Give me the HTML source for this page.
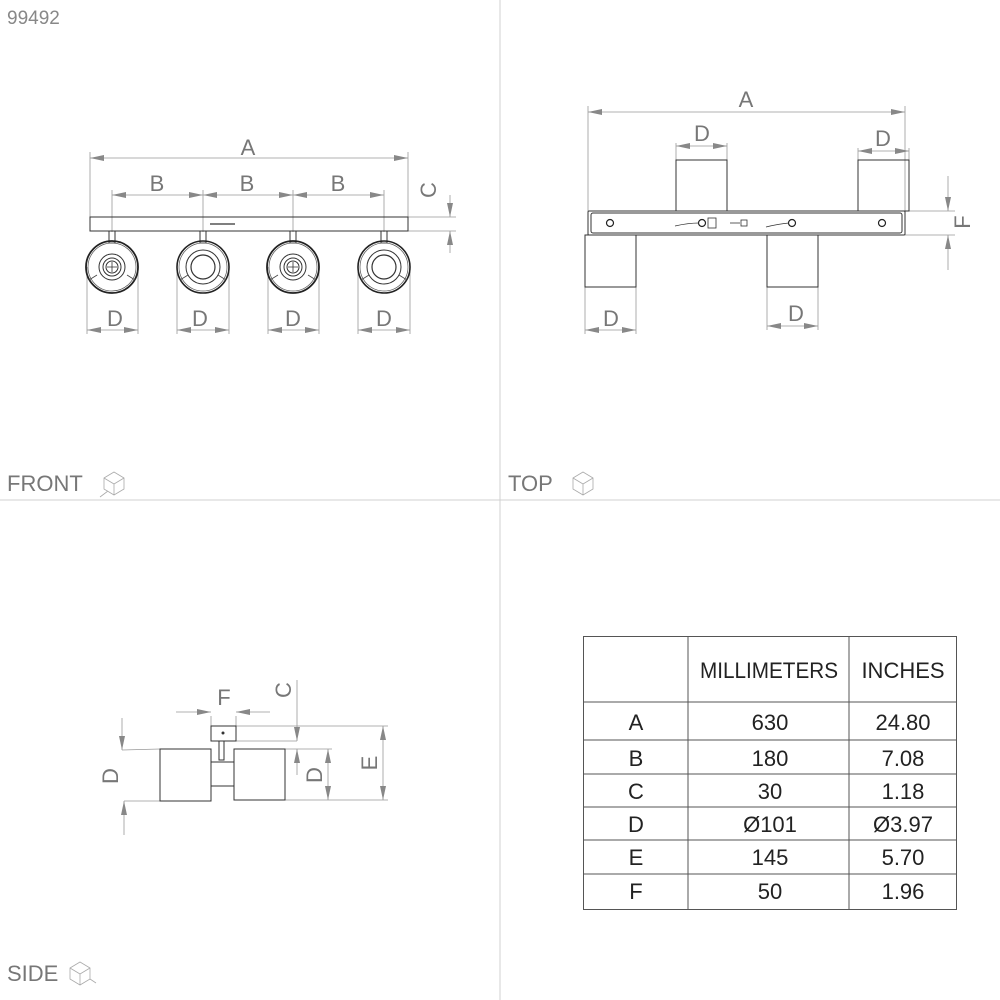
<!DOCTYPE html>
<html><head><style>
html,body{margin:0;padding:0;background:#fff}
svg{display:block}
text{font-family:"Liberation Sans",sans-serif}
</style></head><body>
<svg width="1000" height="1000" viewBox="0 0 1000 1000" xmlns="http://www.w3.org/2000/svg">
<defs>
<marker id="ar" viewBox="0 0 14 6" refX="14" refY="3" markerWidth="14" markerHeight="6" markerUnits="userSpaceOnUse" orient="auto-start-reverse">
<path d="M0,0 L14,3 L0,6 Z" fill="#888"/>
</marker>
<g id="lampA">
<circle r="26" fill="none" stroke="#222" stroke-width="1.6"/>
<circle r="24" fill="none" stroke="#555" stroke-width="0.7"/>
<circle r="17" fill="none" stroke="#333" stroke-width="1"/>
<circle r="12" fill="none" stroke="#333" stroke-width="1.2"/>
<path d="M-15,8 L-23,13 M15,8 L23,13" stroke="#444" stroke-width="0.8"/>
</g>
<g id="lampB">
<circle r="26" fill="none" stroke="#222" stroke-width="1.8"/>
<circle r="24" fill="none" stroke="#555" stroke-width="0.7"/>
<circle r="13" fill="none" stroke="#333" stroke-width="1"/>
<circle r="9" fill="none" stroke="#333" stroke-width="1"/>
<circle r="6" fill="none" stroke="#333" stroke-width="1"/>
<path d="M-5,0 H5 M0,-5 V5" stroke="#333" stroke-width="0.8"/>
<path d="M-15,8 L-23,13 M15,8 L23,13" stroke="#444" stroke-width="0.8"/>
</g>
</defs>

<!-- dividers -->
<line x1="500" y1="0" x2="500" y2="1000" stroke="#d0d0d0" stroke-width="1"/>
<line x1="0" y1="500" x2="1000" y2="500" stroke="#d0d0d0" stroke-width="1"/>

<text x="7" y="24" font-size="19" fill="#888">99492</text>
<text x="7" y="491" font-size="22" fill="#777">FRONT</text>
<text x="508" y="491" font-size="22" fill="#777">TOP</text>
<text x="7" y="981" font-size="22" fill="#777">SIDE</text>
<!-- cube icons -->
<g fill="none" stroke="#aaa" stroke-width="0.8">
<path d="M104,478 l10,-6 l10,6 v11 l-10,6 l-10,-6 Z M104,478 l10,6 l10,-6 M114,484 v11 M100,497 l8,-6"/>
<path d="M573,478 l10,-6 l10,6 v11 l-10,6 l-10,-6 Z M573,478 l10,6 l10,-6 M583,484 v11"/>
<path d="M70,968 l10,-6 l10,6 v11 l-10,6 l-10,-6 Z M70,968 l10,6 l10,-6 M80,974 v11 M90,979 l6,4"/>
</g>

<g stroke="#999" stroke-width="0.8" fill="none">
<!-- FRONT dims -->
<line x1="90" y1="158" x2="408" y2="158" marker-start="url(#ar)" marker-end="url(#ar)"/>
<line x1="90" y1="152" x2="90" y2="217"/><line x1="408" y1="152" x2="408" y2="217"/>
<line x1="112" y1="195" x2="203" y2="195" marker-start="url(#ar)" marker-end="url(#ar)"/>
<line x1="203" y1="195" x2="293" y2="195" marker-start="url(#ar)" marker-end="url(#ar)"/>
<line x1="293" y1="195" x2="384" y2="195" marker-start="url(#ar)" marker-end="url(#ar)"/>
<line x1="112" y1="190" x2="112" y2="232"/><line x1="203" y1="190" x2="203" y2="232"/>
<line x1="293" y1="190" x2="293" y2="232"/><line x1="384" y1="190" x2="384" y2="232"/>
<line x1="408" y1="217" x2="456" y2="217"/><line x1="408" y1="231" x2="456" y2="231"/>
<line x1="450" y1="195" x2="450" y2="217" marker-end="url(#ar)"/>
<line x1="450" y1="253" x2="450" y2="231" marker-end="url(#ar)"/>
<g>
<line x1="87" y1="267" x2="87" y2="334"/><line x1="138" y1="267" x2="138" y2="334"/>
<line x1="87" y1="330" x2="138" y2="330" marker-start="url(#ar)" marker-end="url(#ar)"/>
<line x1="177" y1="267" x2="177" y2="334"/><line x1="229" y1="267" x2="229" y2="334"/>
<line x1="177" y1="330" x2="229" y2="330" marker-start="url(#ar)" marker-end="url(#ar)"/>
<line x1="268" y1="267" x2="268" y2="334"/><line x1="319" y1="267" x2="319" y2="334"/>
<line x1="268" y1="330" x2="319" y2="330" marker-start="url(#ar)" marker-end="url(#ar)"/>
<line x1="358" y1="267" x2="358" y2="334"/><line x1="410" y1="267" x2="410" y2="334"/>
<line x1="358" y1="330" x2="410" y2="330" marker-start="url(#ar)" marker-end="url(#ar)"/>
</g>

<!-- TOP dims -->
<line x1="588" y1="112" x2="905" y2="112" marker-start="url(#ar)" marker-end="url(#ar)"/>
<line x1="588" y1="106" x2="588" y2="211"/><line x1="905" y1="106" x2="905" y2="211"/>
<line x1="676" y1="146" x2="727" y2="146" marker-start="url(#ar)" marker-end="url(#ar)"/>
<line x1="676" y1="143" x2="676" y2="160"/><line x1="727" y1="143" x2="727" y2="160"/>
<line x1="858" y1="151" x2="909" y2="151" marker-start="url(#ar)" marker-end="url(#ar)"/>
<line x1="858" y1="148" x2="858" y2="160"/><line x1="909" y1="148" x2="909" y2="160"/>
<line x1="585" y1="287" x2="585" y2="334"/><line x1="636" y1="287" x2="636" y2="334"/>
<line x1="585" y1="330" x2="636" y2="330" marker-start="url(#ar)" marker-end="url(#ar)"/>
<line x1="767" y1="287" x2="767" y2="330"/><line x1="818" y1="287" x2="818" y2="330"/>
<line x1="767" y1="326" x2="818" y2="326" marker-start="url(#ar)" marker-end="url(#ar)"/>
<line x1="905" y1="211" x2="955" y2="211"/><line x1="905" y1="235" x2="955" y2="235"/>
<line x1="948" y1="176" x2="948" y2="211" marker-end="url(#ar)"/>
<line x1="948" y1="270" x2="948" y2="235" marker-end="url(#ar)"/>

<!-- SIDE dims -->
<line x1="176" y1="712" x2="211" y2="712" marker-end="url(#ar)"/>
<line x1="270" y1="712" x2="236" y2="712" marker-end="url(#ar)"/>
<line x1="211" y1="716" x2="211" y2="726"/><line x1="236" y1="716" x2="236" y2="726"/>
<line x1="297" y1="680" x2="297" y2="741" marker-end="url(#ar)"/>
<line x1="297" y1="775" x2="297" y2="749" marker-end="url(#ar)"/>
<line x1="236" y1="726" x2="388" y2="726"/><line x1="236" y1="741" x2="297" y2="741"/>
<line x1="285" y1="749" x2="332" y2="749"/><line x1="285" y1="800" x2="388" y2="800"/>
<line x1="328" y1="774" x2="328" y2="749" marker-end="url(#ar)"/>
<line x1="328" y1="774" x2="328" y2="800" marker-end="url(#ar)"/>
<line x1="383" y1="763" x2="383" y2="726" marker-end="url(#ar)"/>
<line x1="383" y1="763" x2="383" y2="800" marker-end="url(#ar)"/>
<line x1="122" y1="718" x2="122" y2="750" marker-end="url(#ar)"/>
<line x1="124" y1="835" x2="124" y2="801" marker-end="url(#ar)"/>
<line x1="122" y1="750" x2="160" y2="749"/><line x1="124" y1="801" x2="160" y2="801"/>
</g>

<!-- FRONT drawing -->
<g stroke="#333" stroke-width="1" fill="none">
<rect x="90" y="217" width="318" height="14"/>
<line x1="210" y1="224" x2="235" y2="224" stroke-width="1.2"/>
<rect x="109" y="231" width="6" height="12"/><rect x="200" y="231" width="6" height="12"/>
<rect x="290" y="231" width="6" height="12"/><rect x="381" y="231" width="6" height="12"/>
</g>
<use href="#lampB" x="112" y="267"/>
<use href="#lampA" x="203" y="267"/>
<use href="#lampB" x="293" y="267"/>
<use href="#lampA" x="384" y="267"/>

<!-- TOP drawing -->
<g stroke="#333" stroke-width="1" fill="none">
<rect x="676" y="160" width="51" height="51"/>
<rect x="858" y="160" width="51" height="51"/>
<rect x="585" y="235" width="51" height="52"/>
<rect x="767" y="235" width="51" height="52"/>
<rect x="588" y="211" width="317" height="24" rx="1" fill="#fff"/>
<rect x="591" y="213" width="311" height="20" rx="2"/>
</g>
<g fill="#fff" stroke="#222" stroke-width="1.2">
<circle cx="610" cy="223" r="3.5"/><circle cx="792" cy="223" r="3.5"/>
<circle cx="702" cy="223" r="3.5"/><circle cx="882" cy="223" r="3.5"/>
</g>
<g stroke="#333" stroke-width="0.8" fill="none">
<path d="M675,226 Q688,223 699,223"/><rect x="708" y="218" width="8" height="10"/>
<path d="M730,223 H740"/><rect x="741" y="220" width="6" height="6"/>
<path d="M766,227 Q778,224 789,223"/>
</g>

<!-- SIDE drawing -->
<g stroke="#333" stroke-width="1" fill="#fff">
<rect x="211" y="726" width="25" height="15"/>
<rect x="219" y="741" width="5" height="19"/>
<rect x="210" y="762" width="24" height="24"/>
<rect x="160" y="749" width="51" height="52"/>
<rect x="234" y="749" width="51" height="51"/>
</g>
<circle cx="223" cy="733" r="1.5" fill="#333"/>

<!-- labels -->
<g fill="#777" font-size="22" text-anchor="middle">
<text x="248" y="155">A</text>
<text x="157" y="191">B</text><text x="247" y="191">B</text><text x="338" y="191">B</text>
<text x="115" y="326">D</text><text x="200" y="326">D</text><text x="293" y="326">D</text><text x="384" y="326">D</text>
<text x="746" y="107">A</text>
<text x="702" y="141">D</text><text x="883" y="146">D</text>
<text x="611" y="326">D</text><text x="796" y="321">D</text>
<text x="224" y="705">F</text>
<text transform="translate(436,190) rotate(-90)">C</text>
<text transform="translate(970,222) rotate(-90)">F</text>
<text transform="translate(291,690) rotate(-90)">C</text>
<text transform="translate(322,775) rotate(-90)">D</text>
<text transform="translate(377,763) rotate(-90)">E</text>
<text transform="translate(118,776) rotate(-90)">D</text>
</g>

<!-- table -->
<g stroke="#555" stroke-width="1" fill="none">
<rect x="583.5" y="636.5" width="373" height="273"/>
<line x1="688" y1="636" x2="688" y2="909"/><line x1="849" y1="636" x2="849" y2="909"/>
<line x1="583" y1="702" x2="956" y2="702"/><line x1="583" y1="740" x2="956" y2="740"/>
<line x1="583" y1="774" x2="956" y2="774"/><line x1="583" y1="807" x2="956" y2="807"/>
<line x1="583" y1="840" x2="956" y2="840"/><line x1="583" y1="874" x2="956" y2="874"/>
</g>
<g fill="#222" font-size="22" text-anchor="middle">
<text x="769" y="678" textLength="138" lengthAdjust="spacingAndGlyphs">MILLIMETERS</text>
<text x="903" y="678">INCHES</text>
<text x="636" y="730">A</text><text x="770" y="730">630</text><text x="903" y="730">24.80</text>
<text x="636" y="766">B</text><text x="770" y="766">180</text><text x="903" y="766">7.08</text>
<text x="636" y="799">C</text><text x="770" y="799">30</text><text x="903" y="799">1.18</text>
<text x="636" y="832">D</text><text x="770" y="832">Ø101</text><text x="903" y="832">Ø3.97</text>
<text x="636" y="865">E</text><text x="770" y="865">145</text><text x="903" y="865">5.70</text>
<text x="636" y="899">F</text><text x="770" y="899">50</text><text x="903" y="899">1.96</text>
</g>
</svg>
</body></html>
